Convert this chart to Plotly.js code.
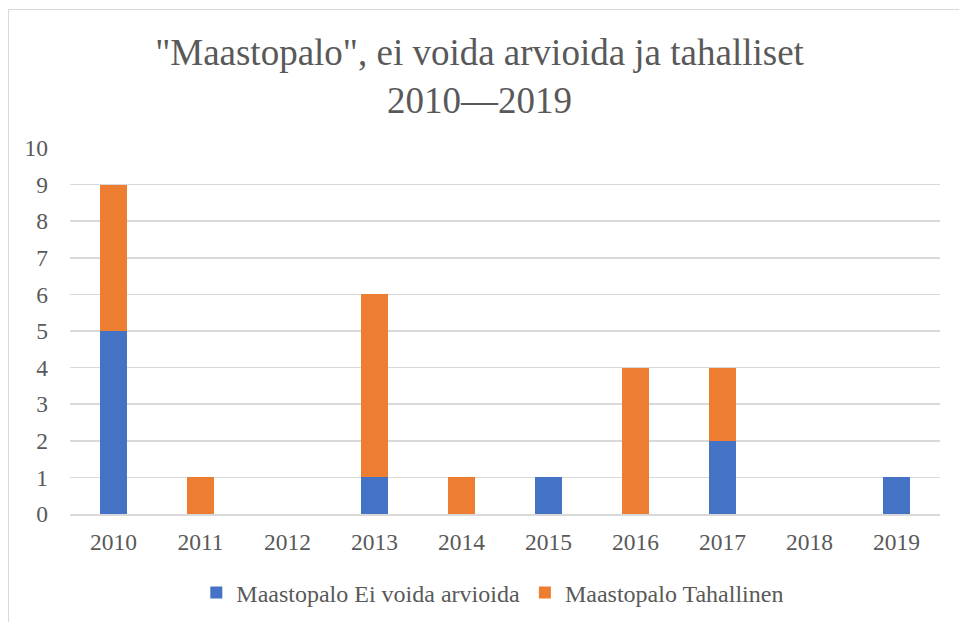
<!DOCTYPE html>
<html><head><meta charset="utf-8">
<script src="https://cdn.plot.ly/plotly-3.0.1.min.js"></script>
<style>
html,body{margin:0;padding:0;background:#fff;overflow:hidden}
#frame{position:absolute;left:8px;top:9px;width:1000px;height:1000px;border:1px solid #d9d9d9;box-sizing:border-box;pointer-events:none;z-index:5}
#chart{position:absolute;left:0;top:0;width:959px;height:622px}
</style>
</head><body>
<div id="chart"></div>
<div id="frame"></div>
<script>
const years = ['2010','2011','2012','2013','2014','2015','2016','2017','2018','2019'];
const eiVoidaArvioida = [5,0,0,1,0,1,0,2,0,1];
const tahallinen = [4,1,0,5,1,0,4,2,0,0];
const seriesNames = ['Maastopalo Ei voida arvioida','Maastopalo Tahallinen'];
const yTicks = [0,1,2,3,4,5,6,7,8,9,10];

const serifFam = 'Liberation Serif';
const traces = [
  {type:'bar', x:years, y:eiVoidaArvioida, name:seriesNames[0], marker:{color:'#4472c4'}},
  {type:'bar', x:years, y:tahallinen, name:seriesNames[1], marker:{color:'#ed7d31'}}
];
const lay = {
  width:959, height:622,
  barmode:'stack', bargap:0.69,
  paper_bgcolor:'#fff', plot_bgcolor:'#fff',
  margin:{l:70, r:19, t:148, b:108},
  font:{family:serifFam, color:'#595959', size:23.5},
  title:{text:'"Maastopalo", ei voida arvioida ja tahalliset<br>2010\u20142019', font:{family:serifFam, size:37, color:'#595959'}, x:0.5, xanchor:'center', yref:'container', y:0.896, yanchor:'middle', automargin:false},
  xaxis:{type:'category', tickvals:years, ticktext:years, showgrid:false, showline:true, linecolor:'#d9d9d9', linewidth:2, ticks:'', ticklabelstandoff:6, automargin:false, tickfont:{family:serifFam, size:23.5}},
  yaxis:{range:[0,10], tickvals:yTicks, showgrid:true, gridcolor:'#d9d9d9', gridwidth:1.5, zeroline:false, showline:false, ticks:'', ticklabelstandoff:21, automargin:false, tickfont:{family:serifFam, size:23.5}},
  legend:{orientation:'h', x:0.486, xanchor:'center', yref:'container', y:0.0466, yanchor:'middle', font:{family:serifFam, size:24}, traceorder:'normal'},
  showlegend:true
};
Plotly.newPlot('chart', traces, lay, {displayModeBar:false, staticPlot:true});
</script>
</body></html>
